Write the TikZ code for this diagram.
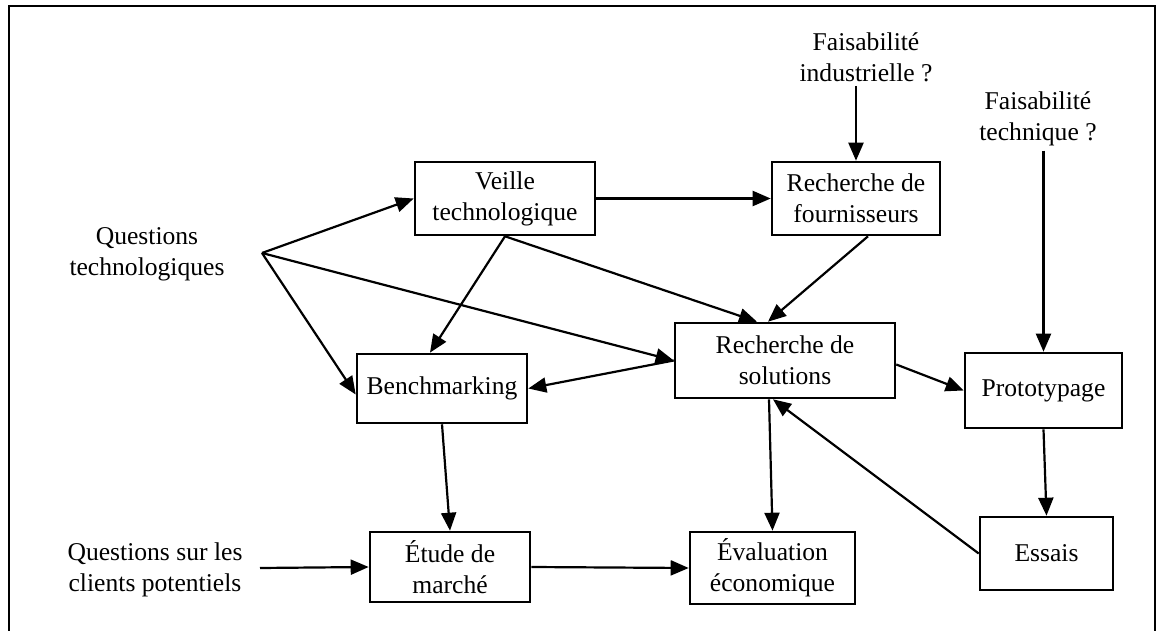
\documentclass[tikz,border=0pt]{standalone}
\usepackage{fontspec}
\setmainfont{Liberation Serif}
\usetikzlibrary{arrows.meta}
\begin{document}
\begin{tikzpicture}[x=0.5pt,y=-0.5pt,
  every node/.style={font=\fontsize{12.8}{15.5}\selectfont, align=center, inner sep=0pt},
  box/.style={draw, line width=1.3pt},
  arr/.style={line width=1.1pt, -{Triangle[length=9pt,width=7.5pt]}},
  frame/.style={line width=1.1pt}]
\useasboundingbox (0,0) rectangle (1158,631);

% outer frame (open at the bottom)
\draw[frame] (9,631) -- (9,6) -- (1155,6) -- (1155,631);

% boxes
\node[box, minimum width=90pt, minimum height=36.5pt] (veille) at (505,198.5) {Veille\\technologique};
\node[box, minimum width=84pt, minimum height=36.5pt] (fourn) at (856,198.5) {Recherche de\\fournisseurs};
\node[box, minimum width=110pt, minimum height=37.5pt] (sol) at (785,360.5) {Recherche de\\solutions};
\node[box, minimum width=85pt, minimum height=34.5pt] (bench) at (442,388.5) {Benchmarking};
\node[box, minimum width=78.5pt, minimum height=37.5pt] (proto) at (1043.5,390.5) {Prototypage};
\node[box, minimum width=66.5pt, minimum height=36.5pt] (essais) at (1046.5,553.5) {Essais};
\node[box, minimum width=80pt, minimum height=35pt] (etude) at (450,567) {Étude de\\marché};
\node[box, minimum width=82.5pt, minimum height=36pt] (eval) at (772.5,568) {Évaluation\\économique};

% free labels
\node (fi) at (866,57) {Faisabilité\\industrielle ?};
\node (ft) at (1038,119) {Faisabilité\\technique ?};
\node (qt) at (147,254) {Questions\\technologiques};
\node (qc) at (155,570) {Questions sur les\\clients potentiels};

\coordinate (qtfan) at (262,253);
\coordinate (qcout) at (260,568);

% connectors
\draw[arr] (qtfan) -- (veille.west);
\draw[arr] (qtfan) -- ([yshift=-3pt]bench.west);
\draw[arr] (qtfan) -- (sol.west);
\draw[arr] (veille.east) -- (fourn.west);
\draw[arr] (veille.south) -- ([xshift=-6pt]bench.north);
\draw[arr] (veille.south) -- ([xshift=-14pt]sol.north);
\draw[arr] ([xshift=6pt]fourn.south) -- ([xshift=-8.5pt]sol.north);
\draw[arr] ([yshift=-2pt]fi.south -| fourn.north) -- (fourn.north);
\draw[arr] ([yshift=-2pt]ft.south -| proto.north) -- (proto.north);
\draw[arr] (sol.west) -- (bench.east);
\draw[arr] ([yshift=-2pt]sol.east) -- (proto.west);
\draw[arr] (proto.south) -- (essais.north);
\draw[arr] (essais.west) -- ([xshift=-6pt]sol.south);
\draw[arr] ([xshift=-8pt]sol.south) -- (eval.north);
\draw[arr] (bench.south) -- (etude.north);
\draw[arr] (etude.east) -- (eval.west);
\draw[arr] (qcout) -- (etude.west);
\end{tikzpicture}
\end{document}
